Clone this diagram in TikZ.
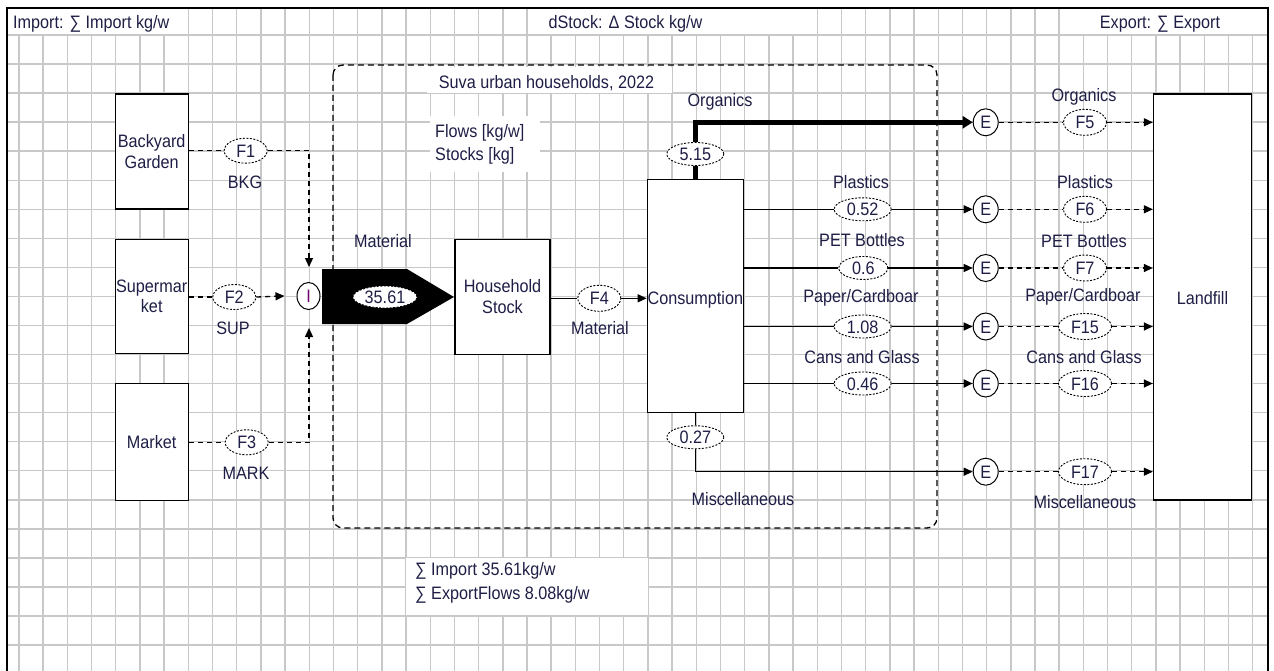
\documentclass[tikz,border=0pt]{standalone}
\usepackage{fontspec}
\setmainfont[FakeStretch=0.9]{Liberation Sans}
\usetikzlibrary{arrows.meta,shapes.geometric}
\definecolor{gridc}{RGB}{200,200,200}
\definecolor{txt}{RGB}{30,30,70}
\definecolor{icol}{RGB}{110,0,110}
\begin{document}
\begin{tikzpicture}[x=1pt,y=-1pt,
  every node/.style={font=\fontsize{18}{20.7}\selectfont, text=txt},
  box/.style={draw=black, line width=1.3pt, fill=white, inner sep=0pt, align=center},
  fl/.style={draw=black, ellipse, dash pattern=on 2pt off 1.5pt, line width=0.9pt, fill=white, inner sep=0pt, minimum height=25pt, text height=13pt, text depth=0pt},
  ecirc/.style={draw=black, ellipse, line width=1pt, fill=white, inner sep=0pt, minimum width=25pt, minimum height=27pt, text height=13pt, text depth=0pt},
  lbl/.style={inner sep=0pt, text height=13pt, text depth=0pt},
  dflow/.style={dash pattern=on 5pt off 4pt, line width=1.3pt},
  sflow/.style={line width=1.3pt},
  tip/.style={-{Triangle[length=9pt,width=8pt]}},
]
\useasboundingbox (0,0) rectangle (1274,671);
\fill[white] (0,0) rectangle (1274,671);
% grid
\foreach \i in {0,...,51} \draw[gridc, line width=1.4pt] ({19+24.19*\i},8) -- ({19+24.19*\i},671);
\foreach \j in {0,...,21} \draw[gridc, line width=1.4pt] (7,{35+29.05*\j}) -- (1268,{35+29.05*\j});
% white label areas
\fill[white] (8.5,9.5) rectangle (185,34);
\fill[white] (530,9.5) rectangle (815,34);
\fill[white] (1083,9.5) rectangle (1267,34);
\fill[white] (427,67) rectangle (672,93);
\fill[white] (430,116) rectangle (540,172);
\fill[white] (406,558) rectangle (648,615);
% frame
\draw[line width=2pt] (7,671) -- (7,8) -- (1268,8) -- (1268,671);
% system boundary
\draw[dash pattern=on 6pt off 4pt, line width=1.3pt, rounded corners=10pt] (333,65) rectangle (937,528);

% top labels
\node[lbl, anchor=west] (limp) at (13,22) {Import: ∑ Import kg/w};
\node[lbl] (ldst) at (625.5,22) {dStock: Δ Stock kg/w};
\node[lbl] (lexp) at (1160,22) {Export: ∑ Export};
\node[lbl] (lsuva) at (546.5,81.7) {Suva urban households, 2022};
\node[lbl, anchor=west] (lflows) at (435,131) {Flows [kg/w]};
\node[lbl, anchor=west] (lstocks) at (435,154) {Stocks [kg]};
\node[lbl, anchor=west] (lsum1) at (415,569.3) {∑ Import 35.61kg/w};
\node[lbl, anchor=west] (lsum2) at (415,593.3) {∑ ExportFlows 8.08kg/w};

% processes
\node[box, minimum width=73pt, minimum height=115pt] (bkg) at (151.7,151.5) {Backyard\\Garden};
\node[box, minimum width=73pt, minimum height=114pt] (sup) at (151.7,296.2) {Supermar\\ket};
\node[box, minimum width=73pt, minimum height=117pt] (mark) at (151.7,442) {Market};
\node[box, minimum width=95pt, minimum height=115pt] (hh) at (502.5,296.7) {Household\\Stock};
\node[box, minimum width=96pt, minimum height=233pt] (cons) at (695.3,296.3) {};
\node[lbl] (lcons) at (695.3,298.3) {Consumption};
\node[box, minimum width=98pt, minimum height=406pt] (land) at (1202.5,297) {};
\node[lbl] (lland) at (1202.5,298) {Landfill};

% import node
\node[ecirc, minimum width=23pt, text=icol] (imp) at (308.5,296) {I};
\coordinate (i1) at (309,267);
\coordinate (i3) at (309,328);

% import flows
\node[fl, minimum width=43pt] (f1) at (245.7,150.7) {F1};
\node[fl, minimum width=43pt] (f2) at (234.3,297) {F2};
\node[fl, minimum width=43pt] (f3) at (246.7,442.3) {F3};
\node[lbl] (lbkg) at (245,182) {BKG};
\node[lbl] (lsup) at (233,328) {SUP};
\node[lbl] (lmark) at (246,473) {MARK};
\draw[dflow] (bkg.east |- f1) -- (f1.west);
\draw[dflow, tip] (f1.east) -- (f1 -| i1) -- (i1);
\draw[dflow] (sup.east |- f2) -- (f2.west);
\draw[dflow, tip] (f2.east) -- ([xshift=-12pt]imp.west);
\draw[dflow] (mark.east |- f3) -- (f3.west);
\draw[dflow, tip] (f3.east) -- (f3 -| i3) -- (i3);

% big material arrow
\fill[black] (322,269) -- (407,269) -- (454,297) -- (407,324) -- (322,324) -- cycle;
\node[fl, minimum width=64pt, minimum height=22pt] (v3561) at (385,297) {35.61};
\node[lbl] (lmat1) at (383,241) {Material};

% household -> consumption
\node[fl, minimum width=43pt, minimum height=26pt] (f4) at (599.3,298.3) {F4};
\node[lbl] (lmat2) at (600,328.3) {Material};
\draw[sflow] (hh.east |- f4) -- (f4.west);
\draw[sflow, tip] (f4.east) -- (cons.west |- f4);

% E nodes
\node[ecirc] (e1) at (985.7,122.3) {E};
\node[ecirc] (e2) at (985.7,209.3) {E};
\node[ecirc] (e3) at (985.7,268) {E};
\node[ecirc] (e4) at (985.7,326.5) {E};
\node[ecirc] (e5) at (985.7,383.5) {E};
\node[ecirc] (e6) at (985.7,471.7) {E};

% organics
\node[fl, minimum width=57pt, minimum height=23pt] (v515) at (695.3,154) {5.15};
\node[lbl] (lorg1) at (720,100) {Organics};
\coordinate (oc) at (695.3,122.3);
\draw[line width=5pt] (cons.north) -- (v515.south);
\draw[line width=5pt, -{Triangle[length=10pt,width=12pt]}] (v515.north) -- (oc) -- (e1.west);

% side flows
\node[fl, minimum width=57pt, minimum height=23pt] (v052) at (862.7,209.3) {0.52};
\node[fl, minimum width=49pt, minimum height=23pt] (v06) at (863.3,268) {0.6};
\node[fl, minimum width=57pt, minimum height=23pt] (v108) at (862.7,326.5) {1.08};
\node[fl, minimum width=57pt, minimum height=23pt] (v046) at (862.7,383.5) {0.46};
\node[lbl] (lpl1) at (861,182) {Plastics};
\node[lbl] (lpet1) at (862,240) {PET Bottles};
\node[lbl] (lpap1) at (861,296) {Paper/Cardboar};
\node[lbl] (lcan1) at (862,357.3) {Cans and Glass};
\draw[sflow] (cons.east |- v052) -- (v052.west);
\draw[sflow, tip] (v052.east) -- (e2.west);
\draw[sflow] (cons.east |- v06) -- (v06.west);
\draw[sflow, tip] (v06.east) -- (e3.west);
\draw[sflow] (cons.east |- v108) -- (v108.west);
\draw[sflow, tip] (v108.east) -- (e4.west);
\draw[line width=1.8pt] (cons.east |- v046) -- (v046.west);
\draw[line width=1.8pt, tip] (v046.east) -- (e5.west);

% miscellaneous
\node[fl, minimum width=57pt, minimum height=23pt] (v027) at (695.3,437.3) {0.27};
\node[lbl] (lmis1) at (743,499.3) {Miscellaneous};
\coordinate (mc) at (695.3,471.7);
\draw[sflow] (cons.south) -- (v027.north);
\draw[sflow, tip] (v027.south) -- (mc) -- (e6.west);

% exports to landfill
\node[fl, minimum width=43pt, minimum height=26pt] (f5) at (1085,122.3) {F5};
\node[fl, minimum width=43pt, minimum height=26pt] (f6) at (1085,209.3) {F6};
\node[fl, minimum width=43pt, minimum height=26pt] (f7) at (1085,268) {F7};
\node[fl, minimum width=53pt, minimum height=26pt] (f15) at (1085,326.5) {F15};
\node[fl, minimum width=53pt, minimum height=26pt] (f16) at (1085,383.5) {F16};
\node[fl, minimum width=53pt, minimum height=26pt] (f17) at (1085,471.7) {F17};
\node[lbl] (lorg2) at (1084,95) {Organics};
\node[lbl] (lpl2) at (1085,182) {Plastics};
\node[lbl] (lpet2) at (1084,241) {PET Bottles};
\node[lbl] (lpap2) at (1083,295) {Paper/Cardboar};
\node[lbl] (lcan2) at (1084,357) {Cans and Glass};
\node[lbl] (lmis2) at (1085,502) {Miscellaneous};
\foreach \e/\f in {e1/f5,e2/f6,e3/f7,e4/f15,e5/f16,e6/f17}{
  \draw[dflow] (\e.east) -- (\f.west);
  \draw[dflow, tip] (\f.east) -- (land.west |- \f);
}
\end{tikzpicture}
\end{document}
